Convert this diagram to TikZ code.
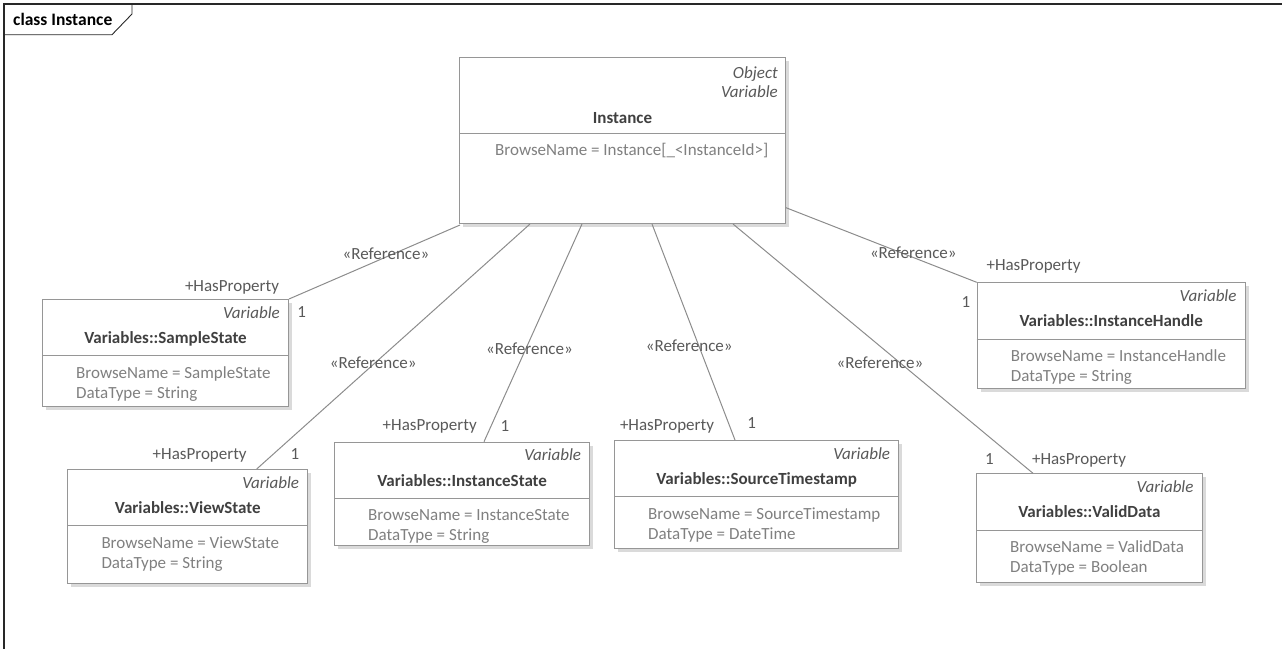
\documentclass[tikz,border=0pt]{standalone}
\usepackage{fontspec}
\setmainfont{Carlito}
\usetikzlibrary{calc}
\definecolor{boxline}{RGB}{150,150,150}
\definecolor{conline}{RGB}{140,140,140}
\definecolor{shadowc}{RGB}{218,218,218}
\definecolor{titlec}{RGB}{64,64,64}
\definecolor{attrc}{RGB}{128,128,128}
\definecolor{stereoc}{RGB}{89,89,89}
\definecolor{framec}{RGB}{40,40,40}
\tikzset{
  clsbox/.style={draw=boxline, fill=white, line width=1pt, inner sep=0pt},
  divline/.style={draw=boxline, line width=1pt},
  conn/.style={draw=conline, line width=1pt},
  stereo/.style={inner sep=0pt, text=stereoc, font=\fontsize{17}{20}\selectfont\itshape},
  ctitle/.style={inner sep=0pt, text=titlec, font=\fontsize{17}{20}\selectfont\bfseries},
  attr/.style={inner sep=0pt, text=attrc, font=\fontsize{17}{20}\selectfont},
  lbl/.style={inner sep=0pt, text=stereoc, font=\fontsize{17}{20}\selectfont, anchor=base},
}
\newcommand\umlcls[8]{%
  \fill[shadowc] (#2+4,#3+4) rectangle (#2+#4+4,#3+#5+4);
  \node[clsbox, minimum width=#4pt, minimum height=#5pt, anchor=north west] (#1) at (#2,#3) {};
  \draw[divline] ($(#1.north west)+(0,56.7)$) -- ($(#1.north east)+(0,56.7)$);
  \node[stereo, anchor=base east] at ($(#1.north east)+(-9,19)$) {Variable};
  \node[ctitle, anchor=base] at ($(#1.north)+(0,44.5)$) {#6};
  \node[attr, anchor=base west] at ($(#1.north west)+(34,79)$) {#7};
  \node[attr, anchor=base west] at ($(#1.north west)+(34,99)$) {#8};
}
\begin{document}
\begin{tikzpicture}[x=1pt,y=-1pt]
\useasboundingbox (0,0) rectangle (1282,649);
% frame
\draw[framec, line width=1.3pt] (1282,4) -- (4,4) -- (4,649);
\node[coordinate] (tabA) at (4,34.7) {};
\node[coordinate] (tabB) at (112,34.7) {};
\node[coordinate] (tabC) at (132,14) {};
\node[coordinate] (tabD) at (132,4) {};
\draw[framec, line width=0.9pt] (tabA) -- (tabB) -- (tabC) -- (tabD);
\node[inner sep=0pt, anchor=base west, font=\fontsize{17.5}{20}\selectfont\bfseries, text=black] (frametitle) at (13,25) {class Instance};

% Instance box
\fill[shadowc] (463,60.7) rectangle (789,227);
\node[clsbox, minimum width=326pt, minimum height=166.3pt, anchor=north west] (inst) at (459,56.7) {};
\draw[divline] ($(inst.north west)+(0,76.3)$) -- ($(inst.north east)+(0,76.3)$);
\node[stereo, anchor=base east] at ($(inst.north east)+(-8,21.5)$) {Object};
\node[stereo, anchor=base east] at ($(inst.north east)+(-8,40.5)$) {Variable};
\node[ctitle, anchor=base] at ($(inst.north)+(0,66.5)$) {Instance};
\node[attr, anchor=base west] at ($(inst.north west)+(36,98.8)$) {BrowseName = Instance[\_<InstanceId>]};

% property classes
\umlcls{ss}{42}{299}{246}{107}{Variables::SampleState}{BrowseName = SampleState}{DataType = String}
\umlcls{ih}{976.7}{282.3}{268}{106}{Variables::InstanceHandle}{BrowseName = InstanceHandle}{DataType = String}
\umlcls{vs}{67.3}{469}{240}{113.7}{Variables::ViewState}{BrowseName = ViewState}{DataType = String}
\umlcls{is}{334}{441.7}{255.3}{103.3}{Variables::InstanceState}{BrowseName = InstanceState}{DataType = String}
\umlcls{st}{614}{440}{284.3}{108.3}{Variables::SourceTimestamp}{BrowseName = SourceTimestamp}{DataType = DateTime}
\umlcls{vd}{976}{473.3}{225.7}{108.3}{Variables::ValidData}{BrowseName = ValidData}{DataType = Boolean}

% connectors
\draw[conn] ($(inst.south west)+(1,1)$) -- (ss.north east);
\draw[conn] ($(inst.south west)+(71,0)$) -- ($(vs.north west)+(189.4,0)$);
\draw[conn] ($(inst.south west)+(123,0)$) -- ($(is.north west)+(150,0)$);
\draw[conn] ($(inst.south west)+(193,0)$) -- ($(st.north west)+(121,0)$);
\draw[conn] ($(inst.south west)+(274,0)$) -- ($(vd.north west)+(57,0)$);
\draw[conn] ($(inst.north east)+(0,151)$) -- (ih.north west);

% connector labels
\node[lbl] (r1) at (386,259.8) {«Reference»};
\node[lbl] (r2) at (373.3,368.2) {«Reference»};
\node[lbl] (r3) at (529.5,354.5) {«Reference»};
\node[lbl] (r4) at (689.3,351.5) {«Reference»};
\node[lbl] (r5) at (880,368.8) {«Reference»};
\node[lbl] (r6) at (913.3,258.8) {«Reference»};

\node[lbl] (hp1) at (232,291.5) {+HasProperty};
\node[lbl] (hp2) at (199.7,459.5) {+HasProperty};
\node[lbl] (hp3) at (429.7,430.5) {+HasProperty};
\node[lbl] (hp4) at (667,430.5) {+HasProperty};
\node[lbl] (hp5) at (1033.5,270.5) {+HasProperty};
\node[lbl] (hp6) at (1079,464.8) {+HasProperty};

\node[lbl] (m1) at (301.7,317.2) {1};
\node[lbl] (m2) at (295,459.5) {1};
\node[lbl] (m3) at (505,431.5) {1};
\node[lbl] (m4) at (751.7,428.2) {1};
\node[lbl] (m5) at (966,307.2) {1};
\node[lbl] (m6) at (989.3,464.8) {1};
\end{tikzpicture}
\end{document}
